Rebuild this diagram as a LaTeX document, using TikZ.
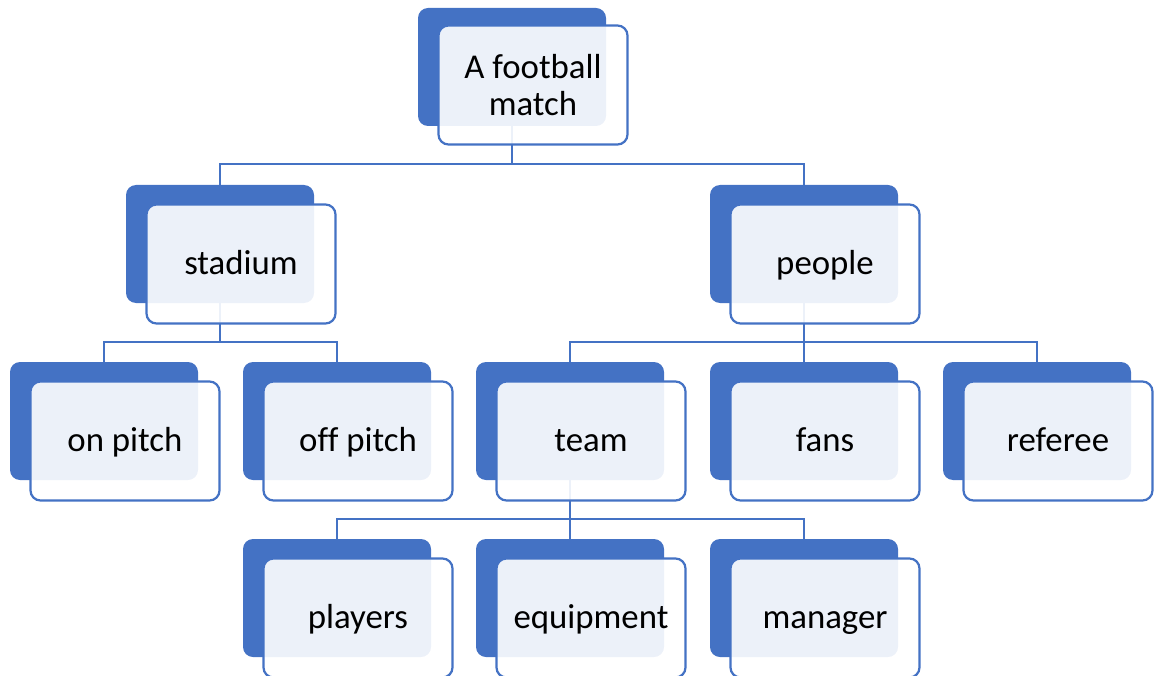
\documentclass[tikz,border=0pt]{standalone}
\usepackage{fontspec}
\setmainfont{Carlito}[Ligatures=NoCommon]
\definecolor{acc}{HTML}{4472C4}
\begin{document}
\begin{tikzpicture}[x=1pt,y=-1pt,
  backbox/.style={rectangle, rounded corners=10pt, fill=acc, draw=none,
    minimum width=188pt, minimum height=118pt, inner sep=0pt},
  frontbox/.style={rectangle, rounded corners=10pt, fill=white, fill opacity=0.9,
    text opacity=1, draw=acc, line width=2.2pt,
    minimum width=189pt, minimum height=119pt, inner sep=0pt, align=center,
    font=\fontsize{34.8}{37}\selectfont},
  onebox/.style={frontbox, text height=24pt, text depth=4pt},
  conn/.style={draw=acc, line width=2.2pt}]
\useasboundingbox (0,0) rectangle (1155,676);
\clip (0,0) rectangle (1155,676);
% back boxes
\node[backbox] (rootB) at (512,67) {};
\node[backbox] (stadB) at (220,244) {};
\node[backbox] (peopB) at (804,244) {};
\node[backbox] (onB) at (104,421) {};
\node[backbox] (offB) at (337,421) {};
\node[backbox] (teamB) at (570,421) {};
\node[backbox] (fansB) at (804,421) {};
\node[backbox] (refB) at (1037,421) {};
\node[backbox] (playB) at (337,598) {};
\node[backbox] (equiB) at (570,598) {};
\node[backbox] (manaB) at (804,598) {};
% connectors
\draw[conn] (rootB.south) -- ++(0,38) -| (stadB.north);
\draw[conn] (rootB.south) -- ++(0,38) -| (peopB.north);
\draw[conn] (stadB.south) -- ++(0,39) -| (onB.north);
\draw[conn] (stadB.south) -- ++(0,39) -| (offB.north);
\draw[conn] (peopB.south) -- ++(0,39) -| (teamB.north);
\draw[conn] (peopB.south) -- ++(0,39) -| (fansB.north);
\draw[conn] (peopB.south) -- ++(0,39) -| (refB.north);
\draw[conn] (teamB.south) -- ++(0,39) -| (playB.north);
\draw[conn] (teamB.south) -- ++(0,39) -| (equiB.north);
\draw[conn] (teamB.south) -- ++(0,39) -| (manaB.north);
% front boxes
\node[frontbox] (root) at (533,85) {A football\\match};
\node[onebox] (stad) at (241,264) {stadium};
\node[onebox] (peop) at (825,264) {people};
\node[onebox] (on) at (125,441) {on pitch};
\node[onebox] (off) at (358,441) {off pitch};
\node[onebox] (team) at (591,441) {team};
\node[onebox] (fans) at (825,441) {fans};
\node[onebox] (ref) at (1058,441) {referee};
\node[onebox] (play) at (358,618) {players};
\node[onebox] (equi) at (591,618) {equipment};
\node[onebox] (mana) at (825,618) {manager};
\end{tikzpicture}
\end{document}
